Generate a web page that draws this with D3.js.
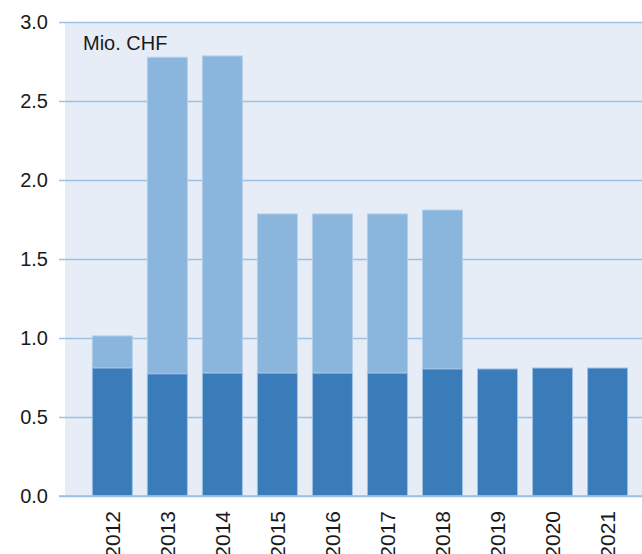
<!DOCTYPE html>
<meta charset="utf-8">
<style>
body {
  margin: 0;
  background: #fff;
  font-family: "Liberation Sans", Helvetica, Arial, sans-serif;
}
.tick text {
  font-size: 20px;
  fill: #1a1a1a;
}
</style>
<body>
<script src="https://cdn.jsdelivr.net/npm/d3@7/dist/d3.min.js"></script>
<script>

var width = 642,
    height = 554;

// values in Mio. CHF
var years = ["2012", "2013", "2014", "2015", "2016", "2017", "2018", "2019", "2020", "2021"];
var baseValues = [0.81, 0.773, 0.778, 0.778, 0.778, 0.778, 0.804, 0.804, 0.81, 0.81];
var extraValues = [0.203, 2.004, 2.007, 1.007, 1.007, 1.007, 1.006, 0, 0, 0];
var yTicks = [0, 0.5, 1, 1.5, 2, 2.5, 3];

var plotLeft = 65,
    plotTop = 22,
    plotBottom = 496;

var x = d3.scaleBand()
    .domain(years)
    .range([84.8, 635.1])
    .paddingInner(0.2727)
    .paddingOuter(0.1364);

var y = d3.scaleLinear()
    .domain([0, 3])
    .range([plotBottom, plotTop]);

var svg = d3.select("body").append("svg")
    .attr("width", width)
    .attr("height", height);

svg.append("rect")
    .attr("x", plotLeft)
    .attr("y", plotTop)
    .attr("width", width - plotLeft)
    .attr("height", plotBottom - plotTop)
    .attr("fill", "#e6edf7");

// gridlines with tick labels
var yAxis = svg.append("g")
    .attr("transform", "translate(" + plotLeft + ",0)")
    .call(d3.axisLeft(y)
      .tickValues(yTicks)
      .tickFormat(d3.format(".1f"))
      .tickSize(-(width - plotLeft))
      .tickPadding(17));

yAxis.select(".domain").remove();
yAxis.selectAll(".tick line")
    .attr("x1", -6)
    .attr("stroke", "#9dc1e5")
    .attr("stroke-width", 1.5);
yAxis.selectAll(".tick text")
    .attr("font-family", null);

var stack = years.map(function(d, i) {
  return {year: d, base: baseValues[i], extra: extraValues[i]};
});

var bars = svg.append("g");

bars.selectAll(".extra")
    .data(stack.filter(function(d) { return d.extra > 0; }))
  .enter().append("rect")
    .attr("class", "extra")
    .attr("x", function(d) { return x(d.year); })
    .attr("width", x.bandwidth())
    .attr("y", function(d) { return y(d.base + d.extra); })
    .attr("height", function(d) { return y(d.base) - y(d.base + d.extra); })
    .attr("fill", "#8ab5dd")
    .attr("stroke", "#b3cfec")
    .attr("stroke-width", 1);

bars.selectAll(".base")
    .data(stack)
  .enter().append("rect")
    .attr("class", "base")
    .attr("x", function(d) { return x(d.year); })
    .attr("width", x.bandwidth())
    .attr("y", function(d) { return y(d.base); })
    .attr("height", function(d) { return y(0) - y(d.base); })
    .attr("fill", "#3a7bba")
    .attr("stroke", "#9fc0e4")
    .attr("stroke-width", 1);

// baseline
svg.append("line")
    .attr("x1", plotLeft - 6)
    .attr("x2", width)
    .attr("y1", y(0))
    .attr("y2", y(0))
    .attr("stroke", "#9dc1e5")
    .attr("stroke-width", 1.5);

// rotated year labels
svg.append("g").selectAll(".year")
    .data(years)
  .enter().append("text")
    .attr("class", "year")
    .attr("transform", function(d) {
      return "translate(" + (x(d) + x.bandwidth() / 2) + "," + 511 + ") rotate(-90)";
    })
    .attr("text-anchor", "end")
    .attr("dy", "0.36em")
    .attr("font-size", "21px")
    .attr("fill", "#1a1a1a")
    .text(function(d) { return d; });

svg.append("text")
    .attr("x", 83)
    .attr("y", 50)
    .attr("font-size", "20px")
    .attr("fill", "#1a1a1a")
    .text("Mio. CHF");

</script>
